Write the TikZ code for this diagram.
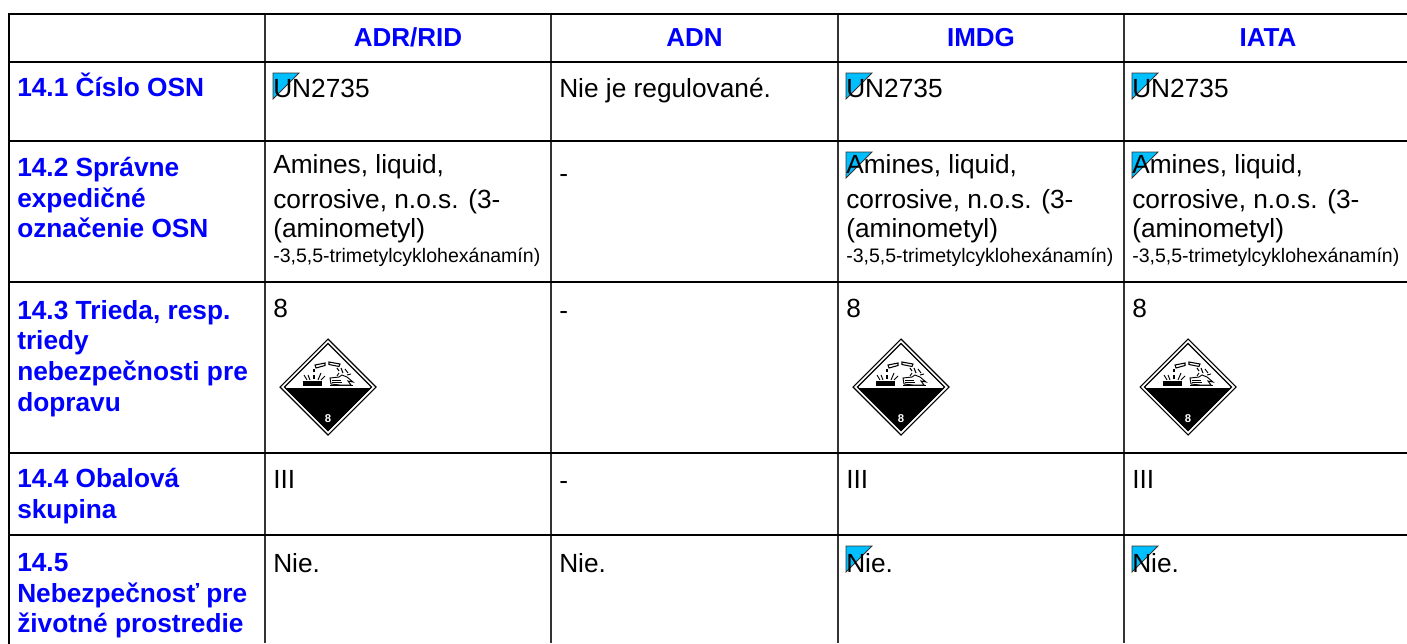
\documentclass[tikz,border=0pt]{standalone}
\usepackage{fontspec}
\setmainfont{Liberation Sans}
\definecolor{headblue}{RGB}{0,0,255}
\definecolor{markcyan}{RGB}{0,191,255}
\tikzset{
  x=0.75pt,y=-0.75pt,
  rule/.style={line width=1.5pt,black,line cap=rect},
  vrule/.style={line width=1.2pt,black!80},
  head/.style={inner sep=0pt,font=\fontsize{19.5}{19.5}\selectfont\bfseries,text=headblue,anchor=base},
  rowhead/.style={inner sep=0pt,align=left,anchor=north west,font=\fontsize{19.7}{23}\selectfont\bfseries,text=headblue},
  cell/.style={inner sep=0pt,anchor=base west,font=\fontsize{19.7}{19.7}\selectfont},
  small/.style={inner sep=0pt,anchor=base west,font=\fontsize{14.65}{14.65}\selectfont},
  pics/flag/.style={code={
    \filldraw[fill=markcyan,draw=black!80,line width=0.6pt] (0,0) -- (26,0) -- (0,26) -- cycle;
  }},
  pics/hazard/.style={code={
    \draw[line width=0.8pt,fill=white] (0,-48) -- (48,0) -- (0,48) -- (-48,0) -- cycle;
    \fill[black] (-43,1) -- (43,1) -- (0,44) -- cycle;
    \draw[line width=1pt] (0,-43.5) -- (43.5,0) -- (0,43.5) -- (-43.5,0) -- cycle;
    \node[text=white,inner sep=0pt,font=\fontsize{8.5}{8.5}\selectfont\bfseries] at (0,32) {8};
    % metal bar
    \fill (-25,-6) rectangle (-6,-1);
    % hand
    \fill (2,-2) rectangle (25,-1);
    \draw[line width=0.7pt,fill=white] (2,-9) -- (11,-10) -- (14,-12) -- (19,-10) -- (25,-5) -- (20,-6) -- (23,-2) -- (12,-2) -- (3,-3) -- cycle;
    \draw[line width=0.5pt] (4,-7) -- (13,-7) (4,-5) -- (14,-5);
    % test tubes
    \draw[line width=0.8pt,fill=white] (-13,-22) -- (-3,-24) -- (-3,-21.5) -- (-12,-19) -- cycle;
    \draw[line width=0.8pt,fill=white] (1,-25) -- (12,-23) -- (11,-20.5) -- (1,-22.5) -- cycle;
    % drips and splashes
    \draw[line width=0.8pt] (-14,-18) -- (-14,-15) (-14,-12) -- (-14,-8);
    \draw[line width=0.7pt] (-21,-7) -- (-24,-12) (-18,-7) -- (-20,-12) (-10,-7) -- (-7,-14) (-7,-7) -- (-3,-11);
    \draw[line width=0.8pt] (9,-19) -- (11,-16) (13,-19) -- (15,-14);
    \draw[line width=0.7pt] (17,-18) -- (20,-14) (11,-14) -- (9,-11) (19,-12) -- (23,-13);
  }}
}
\begin{document}
\begin{tikzpicture}
\useasboundingbox (0,0) rectangle (1407,643);
% grid
\coordinate (tl) at (9,14); \coordinate (tr) at (1407,14);
\coordinate (l1) at (9,62); \coordinate (r1) at (1407,62);
\coordinate (l2) at (9,141); \coordinate (r2) at (1407,141);
\coordinate (l3) at (9,282); \coordinate (r3) at (1407,282);
\coordinate (l4) at (9,453); \coordinate (r4) at (1407,453);
\coordinate (l5) at (9,535); \coordinate (r5) at (1407,535);
\coordinate (bl) at (9,643);
\foreach \cx/\nm in {265/a,551/b,838/c,1124/d}{
  \coordinate (\nm t) at (\cx,14); \coordinate (\nm b) at (\cx,643);
  \draw[vrule] (\nm t) -- (\nm b);
}
\draw[rule] (tl) -- (bl);
\foreach \p/\q in {tl/tr,l1/r1,l2/r2,l3/r3,l4/r4,l5/r5}{\draw[rule] (\p) -- (\q);}
% header
\node[head] (h1) at (408,46) {ADR/RID};
\node[head] (h2) at (694.5,46) {ADN};
\node[head] (h3) at (981,46) {IMDG};
\node[head] (h4) at (1268,46) {IATA};
% row headers
\node[rowhead] (r141) at (17,73) {14.1 Číslo OSN};
\node[rowhead] (r142) at (17,157) {14.2 Správne\\expedičné\\označenie OSN};
\node[rowhead] (r143) at (17,300) {14.3 Trieda, resp.\\triedy\\nebezpečnosti pre\\dopravu};
\node[rowhead] (r144) at (17,468) {14.4 Obalová\\skupina};
\node[rowhead] (r145) at (17,553) {14.5\\Nebezpečnosť pre\\životné prostredie};
% flags (beneath their text)
\foreach \fx/\fy in {846/73,1132/73,273/73,846/152,1132/152,846/546,1132/546}{
  \pic at (\fx,\fy) {flag};
}
% row 14.1
\node[cell] (c11) at (273,97) {UN2735};
\node[cell] (c12) at (559,97) {Nie je regulované.};
\node[cell] (c13) at (846,97) {UN2735};
\node[cell] (c14) at (1132,97) {UN2735};
% row 14.2
\foreach \cxx/\nm in {273/a,846/c,1132/d}{
  \node[cell] (n\nm1) at (\cxx,173) {Amines, liquid,};
  \node[cell] (n\nm2) at (\cxx,208) {corrosive, n.o.s. (3-};
  \node[cell] (n\nm3) at (\cxx,237) {(aminometyl)};
  \node[small] (n\nm4) at (\cxx,262) {-3,5,5-trimetylcyklohexánamín)};
}
\node[cell] (c22) at (559,182) {-};
% row 14.3
\node[cell] (c31) at (273,317) {8};
\node[cell] (c32) at (559,319) {-};
\node[cell] (c33) at (846,317) {8};
\node[cell] (c34) at (1132,317) {8};
\pic at (328,387) {hazard};
\pic at (901,387) {hazard};
\pic at (1188,387) {hazard};
% row 14.4
\node[cell] (c41) at (273,488) {III};
\node[cell] (c42) at (559,489) {-};
\node[cell] (c43) at (846,488) {III};
\node[cell] (c44) at (1132,488) {III};
% row 14.5
\node[cell] (c51) at (273,572) {Nie.};
\node[cell] (c52) at (559,572) {Nie.};
\node[cell] (c53) at (846,572) {Nie.};
\node[cell] (c54) at (1132,572) {Nie.};
\end{tikzpicture}
\end{document}
